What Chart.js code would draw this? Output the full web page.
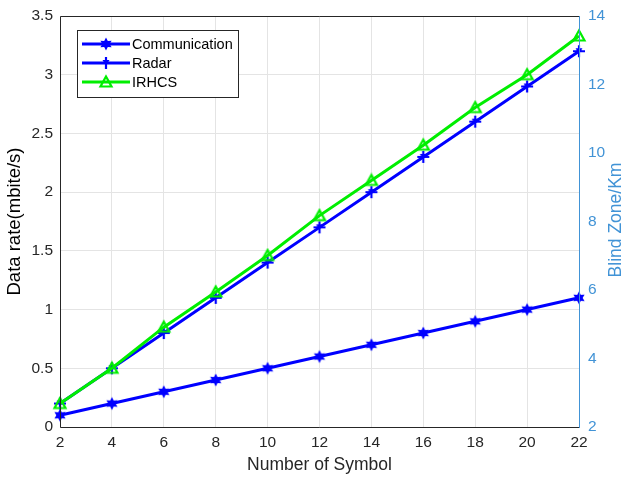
<!DOCTYPE html>
<html>
<head>
<meta charset="utf-8">
<script src="https://cdn.jsdelivr.net/npm/chart.js@4.4.1/dist/chart.umd.min.js"></script>
<style>
  html, body { margin: 0; padding: 0; background: #fff; }
  #wrap { width: 629px; height: 480px; }
</style>
</head>
<body>
<div id="wrap"><canvas id="chart" width="629" height="480"></canvas></div>
<script>
const symbols = [2, 4, 6, 8, 10, 12, 14, 16, 18, 20, 22];
const communication = [0.1, 0.2, 0.3, 0.4, 0.5, 0.6, 0.7, 0.8, 0.9, 1.0, 1.1];
const radar = [0.2, 0.5, 0.8, 1.1, 1.4, 1.7, 2.0, 2.3, 2.6, 2.9, 3.2];
const irhcs = [0.2, 0.5, 0.85, 1.15, 1.46, 1.8, 2.1, 2.4, 2.72, 3.0, 3.33];
const seriesNames = ['Communication', 'Radar', 'IRHCS'];

const BLUE = '#0000ff';
const GREEN = '#00ee00';
const AXIS_BLUE = '#4193d6';
const FONT = '"Liberation Sans", Arial, sans-serif';

// little marker sprites
function sprite(draw) {
  const c = document.createElement('canvas');
  c.width = 16; c.height = 16;
  draw(c.getContext('2d'));
  return c;
}
const starMark = sprite(ctx => {
  ctx.fillStyle = BLUE;
  ctx.beginPath();
  for (let i = 0; i < 12; i++) {
    const r = i % 2 === 0 ? 6.5 : 3.6;
    const a = -Math.PI / 2 + i * Math.PI / 6;
    ctx.lineTo(8 + r * Math.cos(a), 8 + r * Math.sin(a));
  }
  ctx.closePath();
  ctx.fill();
});
const plusMark = sprite(ctx => {
  ctx.strokeStyle = BLUE;
  ctx.fillStyle = BLUE;
  ctx.lineWidth = 2.2;
  ctx.beginPath();
  ctx.moveTo(8, 2); ctx.lineTo(8, 14);
  ctx.moveTo(2, 8); ctx.lineTo(14, 8);
  ctx.stroke();
  ctx.beginPath();
  ctx.moveTo(4.5, 5); ctx.lineTo(11.5, 5); ctx.lineTo(8, 10.5);
  ctx.closePath();
  ctx.fill();
});
const triMark = sprite(ctx => {
  ctx.strokeStyle = GREEN;
  ctx.lineWidth = 2.2;
  ctx.beginPath();
  ctx.moveTo(8, 2.5); ctx.lineTo(13.5, 12.5); ctx.lineTo(2.5, 12.5);
  ctx.closePath();
  ctx.stroke();
});
const marks = [starMark, plusMark, triMark];

function series(values) {
  return values.map((v, i) => ({ x: symbols[i], y: v }));
}

// keep tick label overhang from pushing the plot area around
function noOverhang(s) {
  s.paddingTop = 0; s.paddingBottom = 0;
  s.paddingLeft = 0; s.paddingRight = 0;
}

// frame, rotated right title and boxed legend
const decor = {
  id: 'decor',
  afterDraw(chart) {
    const { ctx, chartArea: a } = chart;
    ctx.save();
    ctx.lineWidth = 1;
    ctx.strokeStyle = '#262626';
    ctx.beginPath();
    ctx.moveTo(a.right, a.top + 0.5);
    ctx.lineTo(a.left + 0.5, a.top + 0.5);
    ctx.lineTo(a.left + 0.5, a.bottom + 0.5);
    ctx.lineTo(a.right, a.bottom + 0.5);
    ctx.stroke();
    ctx.strokeStyle = AXIS_BLUE;
    ctx.beginPath();
    ctx.moveTo(a.right + 0.5, a.top);
    ctx.lineTo(a.right + 0.5, a.bottom + 1);
    ctx.stroke();

    ctx.fillStyle = AXIS_BLUE;
    ctx.font = '17.5px ' + FONT;
    ctx.textAlign = 'center';
    ctx.textBaseline = 'middle';
    ctx.translate(616, 220);
    ctx.rotate(-Math.PI / 2);
    ctx.fillText('Blind Zone/Km', 0, 0);
    ctx.restore();

    ctx.save();
    const bx = 77, by = 30, bw = 161, bh = 67;
    ctx.fillStyle = '#fff';
    ctx.fillRect(bx, by, bw, bh);
    ctx.strokeStyle = '#262626';
    ctx.lineWidth = 1;
    ctx.strokeRect(bx + 0.5, by + 0.5, bw, bh);
    ctx.font = '14.5px ' + FONT;
    ctx.textBaseline = 'middle';
    ctx.textAlign = 'left';
    chart.data.datasets.forEach((ds, i) => {
      const y = by + 14 + i * 19;
      ctx.strokeStyle = ds.borderColor;
      ctx.lineWidth = 3;
      ctx.beginPath();
      ctx.moveTo(bx + 5, y);
      ctx.lineTo(bx + 53, y);
      ctx.stroke();
      ctx.drawImage(marks[i], bx + 29 - 8, y - 8);
      ctx.fillStyle = '#000';
      ctx.fillText(ds.label, bx + 55, y + 1);
    });
    ctx.restore();
  }
};

new Chart(document.getElementById('chart'), {
  type: 'line',
  data: {
    datasets: [
      { label: seriesNames[0], data: series(communication), borderColor: BLUE, pointStyle: starMark, order: 2 },
      { label: seriesNames[1], data: series(radar), borderColor: BLUE, pointStyle: plusMark, order: 1 },
      { label: seriesNames[2], data: series(irhcs), borderColor: GREEN, pointStyle: triMark, order: 0 }
    ].map(d => Object.assign(d, { borderWidth: 3, tension: 0, pointRadius: 7, clip: false, yAxisID: 'y' }))
  },
  options: {
    responsive: false,
    animation: false,
    layout: { padding: { top: 16, left: 0, right: 0, bottom: 0 } },
    plugins: { legend: { display: false }, tooltip: { enabled: false } },
    scales: {
      x: {
        type: 'linear',
        min: 2, max: 22,
        ticks: { stepSize: 2, color: '#262626', font: { family: FONT, size: 15.5 }, padding: 6 },
        grid: { color: '#e4e4e4', drawTicks: false },
        border: { display: false },
        title: { display: true, text: 'Number of Symbol', color: '#262626', font: { family: FONT, size: 17.5 }, padding: { top: 2 } },
        afterFit(s) { s.height = 53; noOverhang(s); }
      },
      y: {
        position: 'left',
        min: 0, max: 3.5,
        ticks: {
          stepSize: 0.5, color: '#262626', font: { family: FONT, size: 15.5 }, padding: 7,
          callback: v => String(v)
        },
        grid: { color: '#e4e4e4', drawTicks: false },
        border: { display: false },
        title: { display: true, text: 'Data rate(mbite/s)', color: '#000', font: { family: FONT, size: 18.5 }, padding: { bottom: 1 } },
        afterFit(s) { s.width = 60; noOverhang(s); }
      },
      y2: {
        position: 'right',
        min: 2, max: 14,
        ticks: { stepSize: 2, color: AXIS_BLUE, font: { family: FONT, size: 15.5 }, padding: 9 },
        grid: { drawOnChartArea: false, drawTicks: false },
        border: { display: false },
        afterFit(s) { s.width = 50; noOverhang(s); }
      }
    }
  },
  plugins: [decor]
});
</script>
</body>
</html>
